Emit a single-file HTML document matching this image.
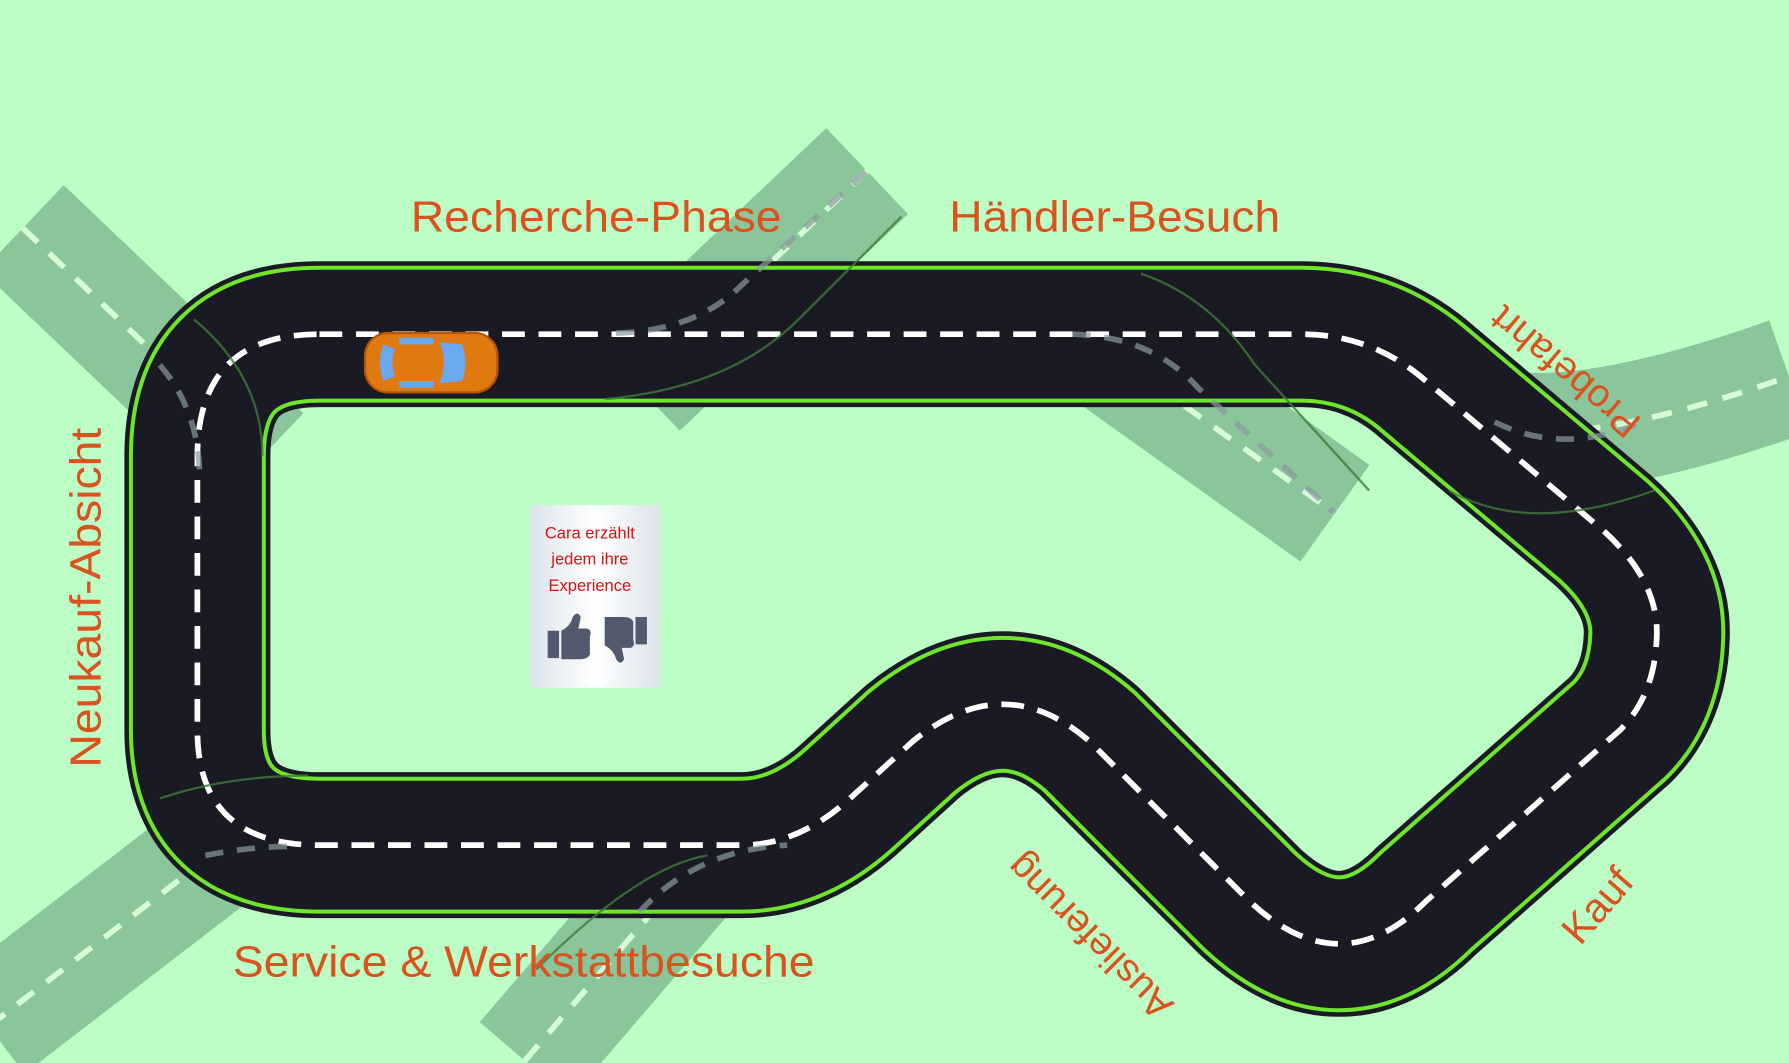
<!DOCTYPE html>
<html><head><meta charset="utf-8"><style>
html,body{margin:0;padding:0;background:#bdfdc6;}
svg{display:block}
</style></head><body>
<svg width="1789" height="1063" viewBox="0 0 1568 932" preserveAspectRatio="none" xmlns="http://www.w3.org/2000/svg" xmlns:xlink="http://www.w3.org/1999/xlink">
<defs>
 <path id="trk" d="M280 293 L1140 293 Q1200 293 1245 330 L1405 465 Q1455 510 1452 560 Q1450 610 1420 640 L1250 790 Q1175 865 1095 790 L955 650 Q880 585 800 650 L745 700 Q700 741 650 741 L280 741 Q173 741 173 640 L173 400 Q173 293 280 293 Z"/>
 <linearGradient id="cg" x1="0" y1="0" x2="1" y2="0"><stop offset="0" stop-color="#dde4ec"/><stop offset="0.5" stop-color="#ffffff"/><stop offset="1" stop-color="#dde4ec"/></linearGradient>
</defs>
<rect width="1568" height="932" fill="#bdfdc6"/>
<g opacity="0.5">
 <g stroke="#5a8f72" stroke-width="104" fill="none">
  <path d="M20 200 L230 400"/>
  <path d="M-10 900 L250 700"/>
  <path d="M760 150 L560 340"/>
  <path d="M960 300 L1170 450"/>
  <path d="M1290 370 Q1370 400 1568 330"/>
  <path d="M460 930 L640 720"/>
 </g>
 <g stroke="#eefbe8" stroke-width="5" stroke-dasharray="18 14" fill="none">
  <path d="M20 200 L230 400"/>
  <path d="M-10 900 L250 700"/>
  <path d="M760 150 L560 340"/>
  <path d="M960 300 L1170 450"/>
  <path d="M1290 370 Q1370 400 1568 330"/>
  <path d="M460 930 L640 720"/>
 </g>
</g>
<g fill="none" stroke-linejoin="round">
 <use href="#trk" xlink:href="#trk" stroke="#1a1a24" stroke-width="128"/>
 <use href="#trk" xlink:href="#trk" stroke="#6fe62c" stroke-width="120"/>
 <use href="#trk" xlink:href="#trk" stroke="#1a1a24" stroke-width="113"/>
 <use href="#trk" xlink:href="#trk" stroke="#ffffff" stroke-width="5" stroke-dasharray="20 12"/>
</g>
<g stroke="#8a9aa0" stroke-width="5" stroke-dasharray="16 12" fill="none" opacity="0.7">
 <path d="M140 320 Q175 360 175 420"/>
 <path d="M540 292 Q610 290 650 250 L760 150"/>
 <path d="M940 293 Q1010 295 1050 340 L1170 450"/>
 <path d="M1310 370 Q1370 400 1440 370"/>
 <path d="M180 750 Q220 742 260 742"/>
 <path d="M560 800 Q610 745 690 741"/>
</g>
<g stroke="#3f7a3a" stroke-width="2" fill="none" opacity="0.8">
 <path d="M170 280 Q230 330 230 400"/>
 <path d="M530 350 Q640 340 700 280 L790 190"/>
 <path d="M1000 240 Q1060 260 1100 320 L1200 430"/>
 <path d="M1270 430 Q1340 470 1450 430"/>
 <path d="M140 700 Q200 680 270 680"/>
 <path d="M470 850 Q560 760 620 750"/>
</g>
<g font-family="Liberation Sans, sans-serif" fill="#d9531e" font-size="38">
 <text x="360" y="203" textLength="325" lengthAdjust="spacingAndGlyphs">Recherche-Phase</text>
 <text x="832" y="203" textLength="290" lengthAdjust="spacingAndGlyphs">Händler-Besuch</text>
 <text x="204" y="856" textLength="510" lengthAdjust="spacingAndGlyphs">Service &amp; Werkstattbesuche</text>
 <text transform="translate(88,673) rotate(-90)" textLength="298" lengthAdjust="spacingAndGlyphs">Neukauf-Absicht</text>
 <text transform="translate(1440,368) rotate(-140)" font-size="34">Probefahrt</text>
 <text transform="translate(1030,880) rotate(-135)" font-size="34">Auslieferung</text>
 <text transform="translate(1385,830) rotate(-49)" font-size="36">Kauf</text>
</g>
<rect x="465" y="443" width="113" height="160" fill="url(#cg)"/>
<g font-family="Liberation Sans, sans-serif" font-size="14.5" fill="#d41414" text-anchor="middle">
 <text x="517" y="472">Cara erzählt</text>
 <text x="517" y="495">jedem ihre</text>
 <text x="517" y="518">Experience</text>
</g>
<g fill="#545a6e">
 <path d="M480 553 h10 v24 h-10z M492 553 q8 -4 10 -12 q4 -6 7 0 l-2 10 h8 q4 2 2 7 v16 q-2 4 -8 4 h-17z"/>
 <path d="M530 541 h17 q6 0 8 4 v16 q2 5 -2 7 h-8 l2 10 q-3 6 -7 0 q-2 -8 -10 -12z M557 541 h10 v24 h-10z"/>
</g>
<g>
 <rect x="320" y="292" width="116" height="52" rx="20" fill="#e07a10" stroke="#b85500" stroke-width="2"/>
 <path d="M336 302 q-6 16 0 32 l10 -4 q-4 -12 0 -24z" fill="#6aa8f0"/>
 <path d="M385 300 q8 18 0 36 l20 -2 q6 -16 0 -32z" fill="#6aa8f0"/>
 <rect x="350" y="296" width="30" height="6" fill="#6aa8f0"/>
 <rect x="350" y="334" width="30" height="6" fill="#6aa8f0"/>
</g>
</svg>
</body></html>
